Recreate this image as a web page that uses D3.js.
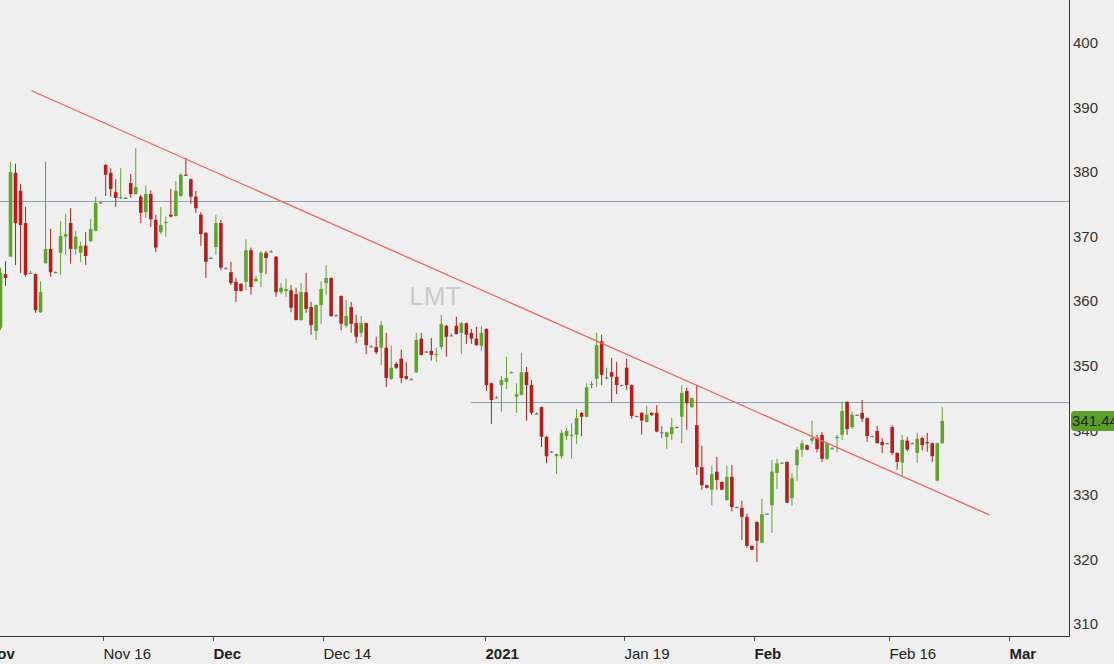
<!DOCTYPE html>
<html>
<head>
<meta charset="utf-8">
<script src="https://cdn.jsdelivr.net/npm/d3@7"></script>
<style>
  html, body { margin: 0; padding: 0; background: #efefef; overflow: hidden; }
  text { font-family: "Liberation Sans", Arial, sans-serif; }
</style>
</head>
<body>
<script>
// half-day candles, index 0 = first visible candle
const openP = [355.9,364.2,366.9,379.9,377.1,372.1,364.4,364.2,358.3,365.9,
  368.1,364.5,367.5,370.0,372.1,368.1,367.5,368.6,369.3,370.9,
  375.3,381.1,379.9,376.9,376.0,376.0,378.3,376.6,376.2,373.8,
  376.6,372.6,370.7,372.1,373.4,373.2,376.3,379.6,378.9,376.2,
  373.4,370.6,366.7,368.4,372.1,365.1,364.5,363.0,362.7,363.0,
  367.9,363.1,364.4,367.5,367.7,366.9,361.4,361.6,361.7,361.1,
  357.1,361.4,359.1,355.4,359.4,362.8,363.6,357.8,360.8,356.2,
  359.1,356.6,355.1,356.6,353.0,352.9,352.8,352.8,348.0,350.3,
  351.1,348.4,347.9,349.0,354.2,352.2,352.3,351.7,352.9,356.2,
  354.7,356.2,355.1,356.6,355.1,354.2,353.1,355.7,347.3,345.1,
  347.0,347.5,349.0,345.2,345.5,349.0,347.0,342.6,343.6,339.0,
  336.7,336.0,336.0,339.1,339.1,339.3,342.7,342.1,347.2,348.0,
  353.8,348.2,349.0,348.3,347.0,349.7,347.0,342.2,342.7,341.3,
  342.7,342.7,339.7,339.0,339.4,340.5,342.1,346.1,343.6,340.8,
  334.3,331.5,330.8,333.6,332.0,329.2,332.8,328.1,328.0,326.6,
  322.1,325.8,322.6,327.1,328.4,333.4,335.0,335.1,329.5,334.6,
  337.0,337.7,338.4,338.8,339.3,335.6,337.2,338.8,339.3,344.4,
  340.5,342.4,342.7,341.9,339.1,339.9,338.2,338.0,340.5,336.5,
  335.0,338.4,338.0,336.5,338.8,338.2,338.0,332.2,338.0];
const highP = [365.2,366.2,381.6,381.3,378.2,374.6,364.7,364.3,363.1,381.6,
  371.2,364.6,372.4,373.5,374.4,370.9,369.2,370.7,372.7,376.2,
  375.4,381.3,380.6,378.9,380.6,376.2,379.7,383.7,376.5,377.9,
  377.2,373.4,374.6,373.1,377.4,378.6,379.9,382.2,379.0,377.1,
  373.8,370.7,366.9,373.4,372.6,365.3,366.1,363.6,362.8,369.6,
  368.3,363.9,367.8,367.8,367.9,367.0,362.8,363.5,362.5,362.1,
  362.8,364.4,359.9,359.5,363.1,365.6,363.7,358.0,360.9,360.2,
  359.9,357.9,357.7,356.7,353.2,354.5,356.9,355.1,353.1,350.6,
  352.5,350.6,348.1,355.1,355.1,352.3,354.3,352.8,357.9,356.3,
  355.0,357.6,356.8,356.7,355.7,356.0,356.2,355.8,347.4,345.3,
  348.4,351.4,349.1,347.3,352.0,349.8,347.8,342.8,343.7,339.1,
  336.8,336.4,340.1,340.4,341.1,343.3,342.8,347.3,347.6,355.1,
  354.8,349.7,351.2,350.6,347.1,351.1,347.1,342.3,342.8,343.8,
  342.8,343.9,340.7,339.8,341.9,340.6,347.0,346.6,345.1,347.0,
  337.6,331.6,334.5,335.9,332.1,334.5,334.6,328.2,329.1,327.1,
  322.2,325.9,329.4,327.1,335.4,335.6,335.0,335.2,333.4,337.4,
  338.5,337.8,341.5,339.3,339.7,338.2,337.4,339.3,344.4,344.5,
  342.9,342.5,344.7,342.0,339.2,340.7,338.8,338.1,340.8,336.6,
  339.3,339.0,338.1,339.6,339.0,339.6,338.1,338.1,343.6];
const lowP = [355.5,362.4,366.9,365.6,364.4,363.8,364.4,358.2,358.2,365.8,
  363.8,364.4,364.1,367.2,365.8,367.2,366.1,365.6,369.2,370.8,
  375.1,376.3,376.2,374.6,375.8,375.9,376.0,376.5,372.1,372.9,
  371.5,367.6,370.4,370.0,373.0,373.1,376.2,379.4,375.1,373.7,
  368.6,363.6,366.6,367.2,364.8,365.0,362.5,359.9,361.5,361.7,
  361.0,363.0,362.2,364.2,367.6,360.7,361.1,360.7,358.3,357.0,
  356.9,358.2,354.8,354.0,356.5,361.0,357.6,357.7,355.5,355.9,
  355.1,353.5,354.5,351.8,352.9,351.8,350.1,346.7,347.8,349.5,
  347.3,347.8,347.8,348.9,351.6,352.0,350.8,350.6,352.5,351.4,
  354.6,354.9,351.8,353.4,353.4,353.1,352.3,346.1,341.0,345.0,
  342.9,346.4,348.9,342.7,345.4,341.5,342.4,342.5,337.4,334.9,
  336.5,333.2,335.6,338.5,335.6,337.9,339.1,342.0,346.5,346.7,
  347.0,347.9,344.4,345.6,346.9,346.3,341.8,342.1,339.3,341.2,
  342.2,339.7,338.8,337.1,338.5,340.4,338.0,340.1,343.5,333.1,
  330.8,331.0,328.4,330.8,330.7,329.1,327.4,328.0,323.0,321.8,
  321.4,319.6,322.5,326.9,324.1,330.9,334.8,328.7,328.3,332.2,
  335.9,336.9,337.9,336.6,335.1,335.4,337.1,336.6,338.5,339.3,
  340.2,342.3,341.3,338.2,339.0,338.0,336.5,337.9,336.2,333.9,
  332.8,336.8,337.9,335.0,336.9,336.7,335.1,332.1,337.9];
const closeP = [364.4,363.6,380.0,372.1,371.8,364.1,364.4,358.6,361.4,368.1,
  364.5,364.5,370.1,370.4,368.1,370.0,368.6,367.0,371.2,375.2,
  375.3,379.6,377.4,376.0,376.1,376.0,376.6,377.7,373.7,376.6,
  372.7,368.3,371.8,372.3,373.1,377.1,379.6,379.5,376.2,374.4,
  370.4,366.1,366.7,372.1,365.2,365.1,362.8,361.6,361.6,367.9,
  362.2,363.5,367.5,366.7,367.7,361.4,362.1,361.9,359.0,357.1,
  361.4,358.8,356.3,359.4,361.9,363.6,357.7,357.8,356.5,357.7,
  356.5,354.5,356.6,353.2,353.0,352.1,356.3,348.1,349.7,349.7,
  348.1,348.0,347.9,354.0,351.7,352.2,351.7,351.8,356.5,354.5,
  354.7,354.9,356.6,354.8,354.2,353.2,355.1,347.0,344.7,345.1,
  347.8,348.1,349.0,345.6,349.0,347.0,342.7,342.6,339.0,336.0,
  336.7,336.3,339.6,339.9,339.3,341.9,342.1,346.7,347.2,353.2,
  348.6,348.2,348.3,347.0,347.0,347.0,342.2,342.2,341.5,342.4,
  342.4,339.8,339.7,339.7,340.5,340.5,345.8,344.2,345.0,334.3,
  331.5,331.1,333.2,332.3,330.8,332.8,328.1,328.1,326.6,322.1,
  321.5,322.9,327.0,327.1,333.6,334.9,335.0,328.8,332.6,337.0,
  338.0,337.0,338.8,337.1,335.6,338.0,337.2,339.0,343.0,340.2,
  342.4,342.4,341.8,339.1,339.1,338.0,337.7,338.0,336.5,335.1,
  338.5,337.0,338.0,338.7,337.7,338.0,336.0,338.0,341.44];

// x-axis ticks, in candle-index units
const tickLabels = ["Nov", "Nov 16", "Dec", "Dec 14", "2021", "Jan 19", "Feb", "Feb 16", "Mar"];
const tickIdx = [-2.9, 20.5, 42.4, 64.4, 96.7, 124.5, 150.4, 177.4, 201.3];
const tickBold = [true, false, true, false, true, false, true, false, true];

const yTicks = [310, 320, 330, 340, 350, 360, 370, 380, 390, 400];

// horizontal levels: [price, start index]
const levelPrice = [375.5, 344.4];
const levelStart = [-5, 93.9];

// trend line endpoints
const trendIdx = [6.2, 197.4];
const trendPrice = [392.6, 326.9];

const symbol = "LMT";
const lastPrice = 341.44;

const W = 1114, H = 664;
const plotRight = 1069, plotBottom = 636;

const svg = d3.select("body").append("svg")
  .attr("width", W).attr("height", H)
  .style("display", "block")
  .style("background", "#efefef");

const x = d3.scaleLinear().domain([0, 213.3]).range([0.5, plotRight]);
const y = d3.scaleLinear().domain([310, 400]).range([624, 43]);

// watermark
svg.append("text")
  .attr("x", x(81.6)).attr("y", 305)
  .attr("font-size", 26)
  .attr("fill", "#cacaca")
  .text(symbol);

// levels
svg.append("g").selectAll("line").data(levelPrice).enter().append("line")
  .attr("x1", (d, i) => x(levelStart[i]))
  .attr("x2", plotRight)
  .attr("y1", d => Math.round(y(d)) + 0.5)
  .attr("y2", d => Math.round(y(d)) + 0.5)
  .attr("stroke", "#8ea2b6")
  .attr("stroke-width", 1);

// candles
const candles = openP.map((o, i) => ({i: i, o: o, h: highP[i], l: lowP[i], c: closeP[i]}));
const col = d => d.c > d.o ? "#62a32f" : (d.c < d.o ? "#b3201c" : "#6e6e6e");
const bw = 3.6;

const cg = svg.append("g");
cg.selectAll("line").data(candles).enter().append("line")
  .attr("x1", d => x(d.i)).attr("x2", d => x(d.i))
  .attr("y1", d => y(d.h)).attr("y2", d => y(d.l))
  .attr("stroke", col)
  .attr("stroke-width", 1);

cg.selectAll("rect").data(candles).enter().append("rect")
  .attr("x", d => x(d.i) - bw / 2)
  .attr("width", bw)
  .attr("y", d => y(Math.max(d.o, d.c)))
  .attr("height", d => Math.max(1, Math.abs(y(d.o) - y(d.c))))
  .attr("fill", col);

// trend line
svg.append("line")
  .attr("x1", x(trendIdx[0])).attr("y1", y(trendPrice[0]))
  .attr("x2", x(trendIdx[1])).attr("y2", y(trendPrice[1]))
  .attr("stroke", "#f06464")
  .attr("stroke-width", 1.3);

// axes lines
svg.append("line")
  .attr("x1", 0).attr("x2", plotRight + 0.5)
  .attr("y1", plotBottom + 0.5).attr("y2", plotBottom + 0.5)
  .attr("stroke", "#333");
svg.append("line")
  .attr("x1", plotRight + 0.5).attr("x2", plotRight + 0.5)
  .attr("y1", 0).attr("y2", plotBottom + 0.5)
  .attr("stroke", "#333");

// x ticks
const xt = svg.append("g").selectAll("g").data(tickLabels).enter().append("g")
  .attr("transform", (d, i) => "translate(" + (Math.round(x(tickIdx[i])) + 0.5) + ",0)");
xt.append("line")
  .attr("y1", plotBottom + 1).attr("y2", plotBottom + 5)
  .attr("stroke", "#555");
xt.append("text")
  .attr("x", 0).attr("y", 659)
  .attr("font-size", 15)
  .attr("font-weight", (d, i) => tickBold[i] ? "bold" : "normal")
  .attr("fill", "#222")
  .text(d => d);

// y labels
svg.append("g").selectAll("text").data(yTicks).enter().append("text")
  .attr("x", plotRight + 4)
  .attr("y", d => y(d))
  .attr("dy", "0.35em")
  .attr("font-size", 15)
  .attr("fill", "#333")
  .text(d => d);

// last price tag
const lp = svg.append("g").attr("transform", "translate(" + (plotRight + 2) + "," + y(lastPrice) + ")");
lp.append("rect")
  .attr("x", 0).attr("y", -10).attr("width", 60).attr("height", 20)
  .attr("rx", 4)
  .attr("fill", "#5c9e2c");
lp.append("text")
  .attr("x", 1).attr("y", 0).attr("dy", "0.35em")
  .attr("font-size", 15)
  .attr("fill", "#1b2a10")
  .text(lastPrice.toFixed(2));
</script>
</body>
</html>
